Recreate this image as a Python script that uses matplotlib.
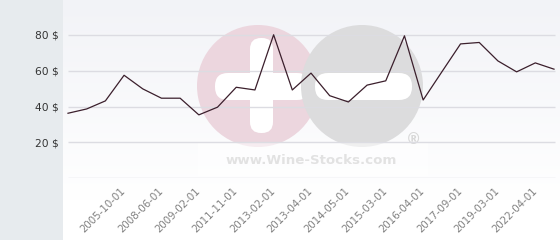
import numpy as np
import matplotlib
matplotlib.use("Agg")
import matplotlib.pyplot as plt
from matplotlib.patches import Circle, FancyBboxPatch, Rectangle

# ---- data ----
values = [36.3, 38.7, 43.2, 57.5, 49.9, 44.7, 44.7, 35.4, 39.7, 50.8, 49.3, 80.1,
          49.3, 58.7, 46.1, 42.6, 52.0, 54.4, 79.5, 43.7, 59.4, 75.0, 75.8, 65.5,
          59.4, 64.4, 60.9]
tick_idx = [3, 5, 7, 9, 11, 13, 15, 17, 19, 21, 23, 25]
tick_labels = ["2005-10-01", "2008-06-01", "2009-02-01", "2011-11-01", "2013-02-01",
               "2013-04-01", "2014-05-01", "2015-03-01", "2016-04-01", "2017-09-01",
               "2019-03-01", "2022-04-01"]
y_ticks = [20, 40, 60, 80]
y_labels = ["20 $", "40 $", "60 $", "80 $"]

W, H = 560, 240
fig = plt.figure(figsize=(W / 100, H / 100), dpi=100)

# ---- background layer in pixel coords ----
bg = fig.add_axes([0, 0, 1, 1], zorder=0)
bg.set_xlim(0, W)
bg.set_ylim(H, 0)
bg.axis("off")
bg.add_patch(Rectangle((0, 0), 63, H, color="#e7ebee", lw=0))
grad = np.linspace(0, 1, 256).reshape(-1, 1)
top = np.array([0.949, 0.953, 0.969])
bot = np.array([1.0, 1.0, 1.0])
img = top[None, None, :] * (1 - grad[:, :, None]) + bot[None, None, :] * grad[:, :, None]
bg.imshow(img, extent=(63, W, 200, 0), aspect="auto", zorder=0)
bg.add_patch(Rectangle((63, 200), W - 63, 40, color="white", lw=0, zorder=0))

# watermark
wm_pink = "#ecd6de"
wm_gray = "#dcdcdd"
bg.add_patch(Circle((258, 86), 61, color=wm_pink, lw=0, zorder=1))
bg.add_patch(FancyBboxPatch((250, 38), 23, 95, boxstyle="round,pad=0,rounding_size=11",
                            color="white", lw=0, zorder=2))
bg.add_patch(FancyBboxPatch((215, 73), 95, 27, boxstyle="round,pad=0,rounding_size=13",
                            color="white", lw=0, zorder=2))
bg.add_patch(Circle((362, 86), 61, color=wm_gray, lw=0, zorder=3))
bg.add_patch(FancyBboxPatch((315, 73), 97, 27, boxstyle="round,pad=0,rounding_size=13",
                            color="white", lw=0, zorder=4))
bg.add_patch(Rectangle((198, 142), 230, 34, color="white", alpha=0.55, lw=0, zorder=4))
bg.text(311, 161, "www.Wine-Stocks.com", ha="center", va="center", fontsize=9.6,
        fontweight="bold", color="#e2e2e2", zorder=5)
bg.text(413, 139, "®", ha="center", va="center", fontsize=11, fontweight="bold",
        color="#d8d8d8", zorder=5)

# ---- main axes ----
x0, x1 = 63, 560
ax = fig.add_axes([x0 / W, (H - 178.3) / H, (x1 - x0) / W, 178.3 / H], zorder=2)
ax.patch.set_alpha(0)
px = 26 / 486.0
ax.set_xlim(-5 * px, 26 + 6 * px)
ax.set_ylim(0, 99.5)
for s in ax.spines.values():
    s.set_visible(False)

x = np.arange(len(values))
ax.hlines([0] + y_ticks, 0, len(values) - 1 + 0.05, colors="#dcdce2", lw=1, zorder=1)
ax.plot(x, values, color="#3b1f2c", lw=0.9, zorder=3)

ax.set_yticks(y_ticks)
ax.set_yticklabels(y_labels, fontsize=7.7, color="#333333")
ax.tick_params(axis="y", length=0, pad=3)
ax.set_xticks(tick_idx)
ax.set_xticklabels(tick_labels, fontsize=7.4, color="#808080", rotation=45,
                   ha="right", va="center", rotation_mode="anchor")
ax.tick_params(axis="x", length=0, pad=8)

fig.savefig("out.png", dpi=100)
